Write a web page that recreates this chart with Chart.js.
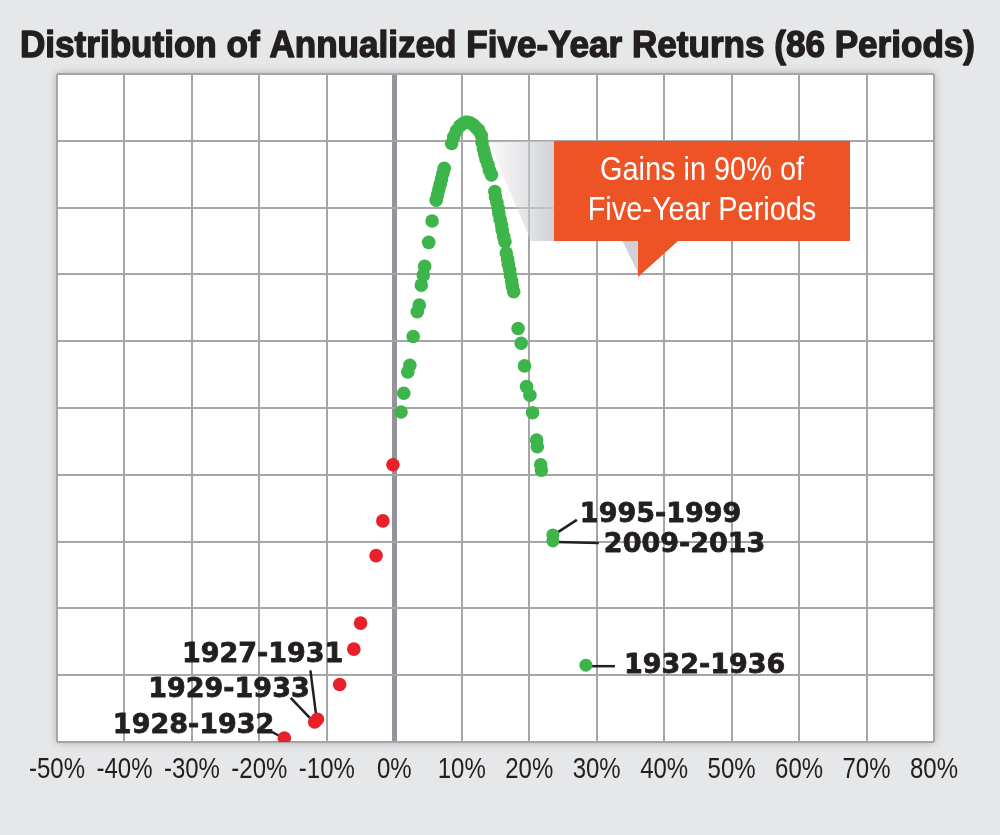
<!DOCTYPE html>
<html>
<head>
<meta charset="utf-8">
<script src="https://cdn.jsdelivr.net/npm/chart.js@4"></script>
<style>
  body { margin: 0; background: #e6e7e9; }
  canvas { display: block; }
</style>
</head>
<body>
<canvas id="returns" width="1000" height="835"></canvas>
<script>
// annualized five-year returns (%) against their position on the unlabeled y scale
gainX = [1.0, 1.4, 2.0, 2.3, 2.8, 3.4, 3.7, 4.0, 4.3, 4.5, 5.1, 5.6,
         6.2, 6.4, 6.6, 6.8, 7.0, 7.2, 7.4,
         8.5, 8.8, 9.2, 9.7, 10.2, 10.7, 11.2, 11.7, 12.1, 12.5, 12.9,
         13.0, 13.2, 13.4, 13.6, 13.9, 14.1, 14.4,
         14.9, 15.0, 15.2, 15.4, 15.5, 15.7, 15.9, 16.0, 16.2, 16.4,
         16.6, 16.8, 16.9, 17.1, 17.2, 17.4, 17.5, 17.7,
         18.35, 18.8, 19.3, 19.6, 20.1, 20.5, 21.1, 21.2, 21.7, 21.8];
gainY = [4.94, 5.22, 5.54, 5.64, 6.07, 6.44, 6.54, 6.84, 6.99, 7.12, 7.48, 7.80,
         8.11, 8.19, 8.27, 8.35, 8.43, 8.51, 8.59,
         8.96, 9.06, 9.15, 9.22, 9.26, 9.28, 9.27, 9.24, 9.20, 9.16, 9.08,
         8.98, 8.88, 8.80, 8.72, 8.64, 8.56, 8.49,
         8.24, 8.16, 8.08, 7.99, 7.91, 7.82, 7.74, 7.66, 7.57, 7.49,
         7.32, 7.23, 7.15, 7.07, 6.99, 6.90, 6.82, 6.74,
         6.19, 5.97, 5.63, 5.32, 5.19, 4.93, 4.52, 4.42, 4.15, 4.07];
lossX = [-0.2, -1.7, -2.7, -5.0, -6.0, -8.1, -11.8, -11.4, -16.3];
lossY = [4.15, 3.31, 2.79, 1.78, 1.39, 0.86, 0.30, 0.34, 0.06];
outlierX = [23.5, 23.5, 28.4];
outlierY = [3.10, 3.01, 1.15];

xTicks = [-50, -40, -30, -20, -10, 0, 10, 20, 30, 40, 50, 60, 70, 80];

chartTitle = "Distribution of Annualized Five-Year Returns (86 Periods)";
calloutLines = ["Gains in 90% of", "Five-Year Periods"];

// named periods: which point they belong to (dataset index, point index)
periodNames = ["1927-1931", "1929-1933", "1928-1932", "1995-1999", "2009-2013", "1932-1936"];
periodPoints = [[1, 7], [1, 6], [1, 8], [2, 0], [2, 1], [2, 2]];

// leader line start/end and text anchor, in px relative to the point
periodStyle = [
     { line: [-1, -2, -7, -49], text: [26, -57], align: "right" },
     { line: [-3, -2, -24, -24], text: [-5, -25], align: "right" },
     { line: [-3, -1, -16, -8], text: [-10, -5], align: "right" },
     { line: [4, -2, 24, -15], text: [27, -13], align: "left" },
     { line: [4, 1, 46, 2], text: [51, 11], align: "left" },
     { line: [4, 1, 29, 1], text: [38, 8], align: "left" }
];

function toPoints(xs, ys) {
     return xs.map((x, i) => ({ x: x, y: ys[i] }));
}

function scaledText(ctx, text, x, y, sx, align, heavy) {
     ctx.save();
     ctx.translate(x, y);
     ctx.scale(sx, 1);
     ctx.textAlign = align;
     ctx.fillText(text, 0, 0);
     if (heavy) {
          ctx.lineWidth = heavy;
          ctx.lineJoin = "round";
          ctx.strokeText(text, 0, 0);
     }
     ctx.restore();
}

const decor = {
     id: "decor",
     beforeDraw(chart) {
          const ctx = chart.ctx, a = chart.chartArea;
          ctx.save();
          ctx.fillStyle = "#e6e7e9";
          ctx.fillRect(0, 0, chart.width, chart.height);
          ctx.shadowColor = "rgba(0,0,0,0.28)";
          ctx.shadowBlur = 9;
          ctx.fillStyle = "#ffffff";
          ctx.fillRect(a.left, a.top, a.right - a.left, a.bottom - a.top);
          ctx.restore();
     },
     beforeDatasetsDraw(chart) {
          const ctx = chart.ctx;
          // shadow behind the callout
          ctx.save();
          const g = ctx.createLinearGradient(490, 0, 554, 0);
          g.addColorStop(0, "rgba(210,211,214,0.15)");
          g.addColorStop(1, "rgba(200,202,206,0.85)");
          ctx.fillStyle = g;
          ctx.beginPath();
          ctx.moveTo(488, 141);
          ctx.lineTo(554, 141);
          ctx.lineTo(554, 241);
          ctx.lineTo(531, 241);
          ctx.closePath();
          ctx.fill();
          ctx.fillStyle = "rgba(200,202,206,0.85)";
          ctx.beginPath();
          ctx.moveTo(622, 240);
          ctx.lineTo(639, 240);
          ctx.lineTo(638, 273);
          ctx.closePath();
          ctx.fill();

          // leader lines, under the dots
          ctx.strokeStyle = "#231f20";
          ctx.lineWidth = 2.5;
          periodNames.forEach((name, i) => {
               const el = chart.getDatasetMeta(periodPoints[i][0]).data[periodPoints[i][1]];
               const l = periodStyle[i].line;
               ctx.beginPath();
               ctx.moveTo(el.x + l[0], el.y + l[1]);
               ctx.lineTo(el.x + l[2], el.y + l[3]);
               ctx.stroke();
          });
          ctx.restore();
     },
     afterDatasetsDraw(chart) {
          const ctx = chart.ctx;
          ctx.save();
          // callout box
          ctx.fillStyle = "#ee5326";
          ctx.beginPath();
          ctx.moveTo(554, 141);
          ctx.lineTo(850, 141);
          ctx.lineTo(850, 241);
          ctx.lineTo(678, 241);
          ctx.lineTo(638, 277);
          ctx.lineTo(638, 241);
          ctx.lineTo(554, 241);
          ctx.closePath();
          ctx.fill();
          ctx.fillStyle = "#ffffff";
          ctx.font = "34px 'Liberation Sans', Arial, sans-serif";
          scaledText(ctx, calloutLines[0], 702, 180, 0.85, "center");
          scaledText(ctx, calloutLines[1], 702, 220, 0.85, "center");

          // period labels
          ctx.fillStyle = "#231f20";
          ctx.strokeStyle = "#231f20";
          ctx.font = "bold 27px 'DejaVu Sans', sans-serif";
          periodNames.forEach((name, i) => {
               const el = chart.getDatasetMeta(periodPoints[i][0]).data[periodPoints[i][1]];
               const t = periodStyle[i].text;
               scaledText(ctx, name, el.x + t[0], el.y + t[1], 1, periodStyle[i].align, 0.8);
          });

          // x tick labels from the library's x scale, drawn condensed
          const xs = chart.scales.x;
          ctx.font = "30px 'Liberation Sans', Arial, sans-serif";
          xs.ticks.forEach((t) => {
               scaledText(ctx, t.value + "%", xs.getPixelForValue(t.value), 778, 0.8, "center");
          });

          // title
          ctx.font = "bold 37px 'Liberation Sans', Arial, sans-serif";
          const w = ctx.measureText(chartTitle).width;
          scaledText(ctx, chartTitle, 20, 57, 955 / w, "left", 1.4);
          ctx.restore();
     }
};

new Chart("returns", {
     type: "scatter",
     data: {
          datasets: [{
               data: toPoints(gainX, gainY),
               backgroundColor: "#3db54a",
               borderWidth: 0,
               pointRadius: 6.8
          }, {
               data: toPoints(lossX, lossY),
               backgroundColor: "#e8202a",
               borderWidth: 0,
               pointRadius: 6.8
          }, {
               data: toPoints(outlierX, outlierY),
               backgroundColor: "#3db54a",
               borderWidth: 0,
               pointRadius: 6.5
          }]
     },
     options: {
          responsive: false,
          animation: false,
          devicePixelRatio: 1,
          layout: { padding: { left: 57, right: 66, top: 74, bottom: 0 } },
          plugins: {
               legend: { display: false },
               tooltip: { enabled: false },
               title: { display: false }
          },
          scales: {
               x: {
                    type: "linear",
                    min: -50,
                    max: 80,
                    afterBuildTicks: (s) => { s.ticks = xTicks.map(v => ({ value: v })); },
                    afterFit: (s) => { s.height = 93; },
                    border: { display: false },
                    grid: {
                         drawTicks: false,
                         color: (c) => c.tick && c.tick.value === 0 ? "#939399" : "#a6a6a8",
                         lineWidth: (c) => c.tick && c.tick.value === 0 ? 5 : 2
                    },
                    ticks: { display: false, maxRotation: 0, minRotation: 0 }
               },
               y: {
                    min: 0,
                    max: 10,
                    afterFit: (s) => { s.width = 0; },
                    border: { display: false },
                    grid: { drawTicks: false, color: "#a6a6a8", lineWidth: 2 },
                    ticks: { display: false, stepSize: 1 }
               }
          }
     },
     plugins: [decor]
});
</script>
</body>
</html>
